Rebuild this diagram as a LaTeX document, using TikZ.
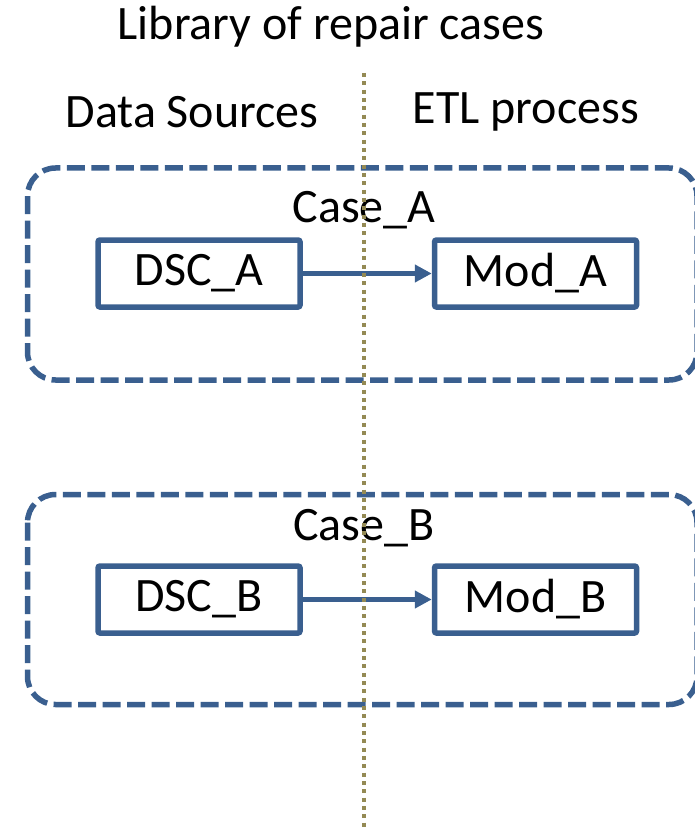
\documentclass[tikz,border=0pt]{standalone}
\usepackage{fontspec}
\setmainfont{Carlito}
\usetikzlibrary{arrows.meta}
\definecolor{boxblue}{HTML}{3A5F8F}
\definecolor{olive}{HTML}{948A54}
\tikzset{
  lbl/.style={font=\fontsize{48}{50}\selectfont, inner sep=0pt},
  casebox/.style={draw=boxblue, line width=5.5pt, rounded corners=28pt, dash pattern=on 18pt off 6.5pt},
  itembox/.style={draw=boxblue, line width=5.5pt, rounded corners=2pt, minimum width=202pt, minimum height=67pt, inner sep=0pt, font=\fontsize{48}{50}\selectfont},
  flow/.style={draw=boxblue, line width=4.5pt, -{Triangle[length=17pt,width=17pt]}},
  divider/.style={draw=olive, line width=4.5pt, dash pattern=on 4pt off 4.33pt},
}
\begin{document}
\begin{tikzpicture}[x=1pt,y=-1pt]
\useasboundingbox (0,0) rectangle (695,829);
% headings
\node[lbl] (title) at (331,27) {Library of repair cases};
\node[lbl] (src) at (192,112) {Data Sources};
\node[lbl] (etl) at (526,112) {ETL process};
% case containers
\draw[casebox] (27.5,168) rectangle (697,380);
\draw[casebox] (27.5,494.5) rectangle (697,704.5);
\node[lbl] (caseA) at (364,210) {Case\_A};
\node[lbl] (caseB) at (364,528) {Case\_B};
% items
\node[itembox] (dscA) at (199,273.5) {DSC\_A};
\node[itembox] (modA) at (535.5,273.5) {Mod\_A};
\node[itembox] (dscB) at (199,599.5) {DSC\_B};
\node[itembox] (modB) at (535.5,599.5) {Mod\_B};
\draw[flow] (dscA) -- (modA);
\draw[flow] (dscB) -- (modB);
% column divider, on top of everything
\coordinate (divtop) at (364,73);
\coordinate (divbot) at (364,832);
\draw[divider] (divtop) -- (divbot);
\end{tikzpicture}
\end{document}
